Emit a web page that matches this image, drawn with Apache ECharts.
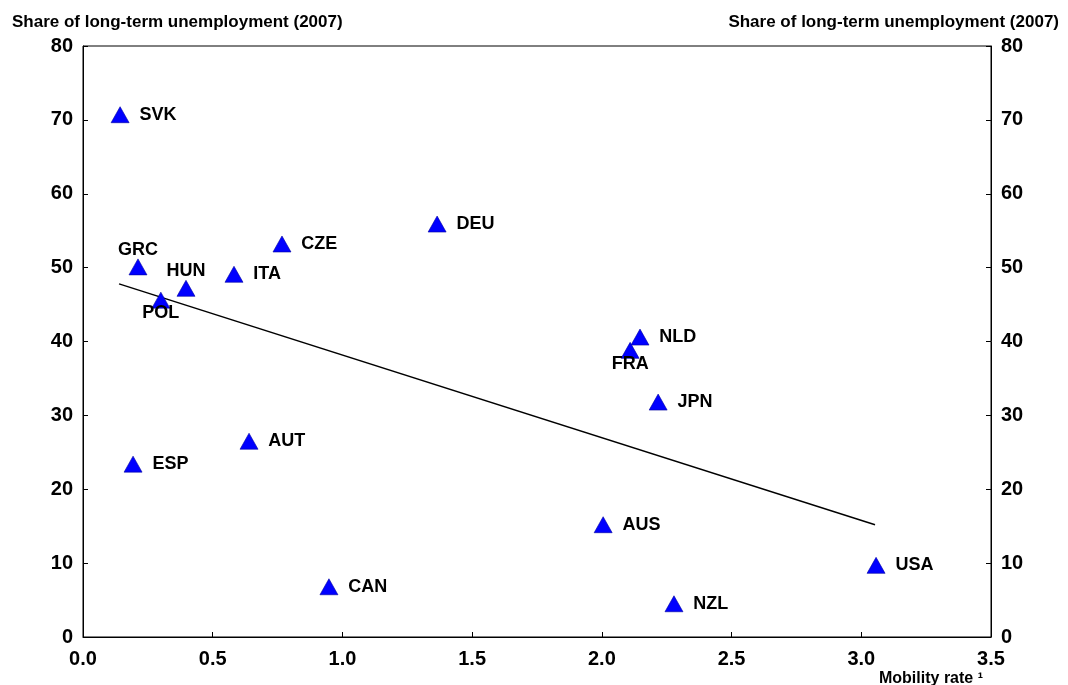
<!DOCTYPE html>
<html>
<head>
<meta charset="utf-8">
<script src="https://cdn.jsdelivr.net/npm/echarts@6/dist/echarts.min.js"></script>
<style>html,body{margin:0;padding:0;background:#fff}#c{width:1068px;height:685px}</style>
</head>
<body>
<div id="c"></div>
<script>
const countries = ['SVK','GRC','HUN','POL','ITA','CZE','DEU','NLD','FRA','JPN','AUT','ESP','AUS','CAN','NZL','USA'];
const mobility  = [0.143,0.212,0.397,0.300,0.582,0.767,1.365,2.147,2.109,2.217,0.640,0.193,2.005,0.948,2.278,3.057];
const longTerm  = [70.7,50.1,47.2,45.6,49.1,53.2,55.9,40.6,38.8,31.8,26.5,23.4,15.2,6.8,4.5,9.7];
const trendX = [0.139, 3.053];
const trendY = [47.8, 15.2];
const yTicks = [0,10,20,30,40,50,60,70,80];
const xTicks = ['0.0','0.5','1.0','1.5','2.0','2.5','3.0','3.5'];

const labelPos = {GRC:'top', HUN:'top', POL:'bottom', FRA:'bottom'};
const labelDist = {right:10, top:0, bottom:-4};
const font = 'Liberation Sans, Arial, sans-serif';

const scatterData = countries.map((c,i)=>{
  const pos = labelPos[c] || 'right';
  return {value:[mobility[i], longTerm[i]], name:c,
    label:{position:pos, distance:labelDist[pos], color:'#000'}};
});

const yAxisCommon = {
  type:'value', min:0, max:80, interval:10,
  axisLine:{show:true, lineStyle:{color:'#000', width:1}},
  axisTick:{show:true, inside:true, length:5, lineStyle:{color:'#000'}},
  splitLine:{show:false},
  axisLabel:{color:'#000', fontFamily:font, fontSize:20, fontWeight:'bold', margin:10,
    formatter:v=> yTicks.includes(v)?String(v):''}
};

const chart = echarts.init(document.getElementById('c'));
chart.setOption({
  animation:false,
  backgroundColor:'#fff',
  title:[
    {text:'Share of long-term unemployment (2007)', left:7, top:9,
     textStyle:{fontFamily:font, fontSize:17, fontWeight:'bold', color:'#000'}},
    {text:'Share of long-term unemployment (2007)', right:4, top:9,
     textStyle:{fontFamily:font, fontSize:17, fontWeight:'bold', color:'#000'}},
    {text:'Mobility rate ¹', right:80, top:666,
     textStyle:{fontFamily:font, fontSize:16, fontWeight:'bold', color:'#000'}}
  ],
  grid:{left:83, right:77, top:46, bottom:48, show:true, borderColor:'#000', borderWidth:1, containLabel:false},
  xAxis:{type:'value', min:0, max:3.5, interval:0.5,
    axisLine:{show:true, onZero:false, lineStyle:{color:'#000'}},
    axisTick:{show:true, inside:true, length:5, lineStyle:{color:'#000'}},
    splitLine:{show:false},
    axisLabel:{color:'#000', fontFamily:font, fontSize:20, fontWeight:'bold', margin:12,
      formatter:v=>{const s=v.toFixed(1); return xTicks.includes(s)?s:'';}}
  },
  yAxis:[
    Object.assign({position:'left'}, yAxisCommon),
    Object.assign({position:'right'}, yAxisCommon)
  ],
  series:[
    {type:'line', data:trendX.map((x,i)=>[x,trendY[i]]), symbol:'none',
     lineStyle:{color:'#000', width:1.5}, silent:true, z:1},
    {type:'scatter', data:scatterData, symbol:'triangle', symbolSize:[18,16],
     itemStyle:{color:'#0000ff', opacity:1, borderColor:'#0000a0', borderWidth:0.6}, z:3,
     label:{show:true, formatter:p=>p.name, color:'#000', fontFamily:font, fontSize:18, fontWeight:'bold'}}
  ]
});
</script>
</body>
</html>
